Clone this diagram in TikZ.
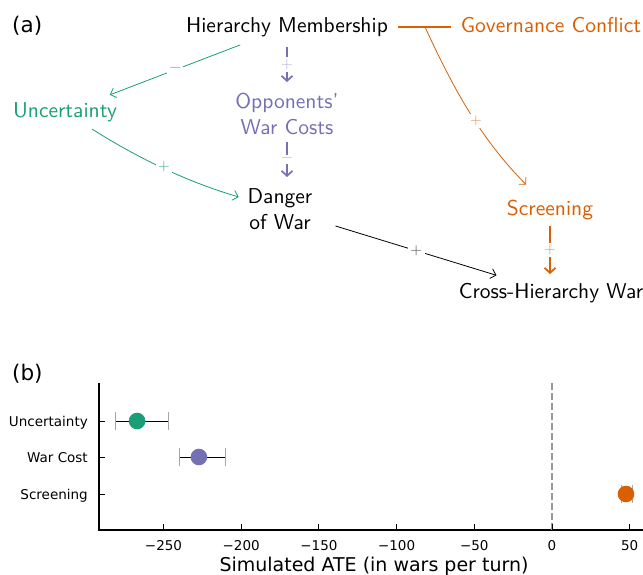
\documentclass[tikz,border=0pt]{standalone}
\usepackage{fontspec}
\usepackage{tikz}
\usetikzlibrary{arrows.meta}

\newfontfamily\varfont{lmsans10-regular.otf}
\newfontfamily\plotfont{DejaVu Sans}
\definecolor{dkgreen}{HTML}{1B9E77}
\definecolor{dkpurple}{HTML}{7570B3}
\definecolor{dkorange}{HTML}{D95F02}

\begin{document}
\begin{tikzpicture}[
  x=1pt, y=-1pt,
  var/.style={font=\varfont\fontsize{21.5}{25.5}\selectfont, inner sep=0pt, text height=17pt, text depth=5pt},
  var2/.style={font=\varfont\fontsize{21.5}{25.5}\selectfont, inner sep=0pt, align=center},
  sign/.style={font=\varfont\fontsize{15}{17}\selectfont, fill=white, inner sep=2.5pt},
  link/.style={-{Straight Barb[length=5pt,width=10pt]}, line width=0.8pt},
  heavy/.style={-{Straight Barb[length=5pt,width=11pt]}, line width=1.7pt},
  panel/.style={font=\plotfont\fontsize{21.5}{25}\selectfont, inner sep=0pt, anchor=base west},
  ticklab/.style={font=\plotfont\fontsize{13.5}{16}\selectfont, inner sep=0pt},
  axlab/.style={font=\plotfont\fontsize{19}{22}\selectfont, inner sep=0pt, anchor=base}
]
\clip (0,0) rectangle (643,575);

% (a) causal diagram
\node[panel] (pa) at (12,33) {(a)};

\node[var] (hm) at (287,27) {Hierarchy Membership};
\node[var, text=dkorange] (gc) at (551,27) {Governance Conflict};
\node[var, text=dkgreen] (unc) at (65,112) {Uncertainty};
\node[var2, text=dkpurple] (opp) at (287,114) {Opponents’\\War Costs};
\node[var2] (dgr) at (280,209) {Danger\\of War};
\node[var, text=dkorange] (scr) at (550,209) {Screening};
\node[var] (chw) at (551,292) {Cross-Hierarchy War};

% moderator line and its branch
\draw[dkorange, line width=1.7pt, shorten <=111pt, shorten >=100pt]
  (hm.center) -- coordinate[pos=0.523] (split) (gc.center);
\draw[link, dkorange, shorten <=1pt, shorten >=34pt] (split) to[bend right=10]
  node[sign, text=dkorange!70, pos=0.48] {+} (scr.center);

% mechanisms
\draw[link, dkgreen, shorten <=50pt, shorten >=48pt] (hm.center) --
  node[sign, text=dkgreen!85, pos=0.504] {−} (unc.center);
\draw[link, dkgreen, shorten <=32pt, shorten >=43pt] (unc.center) to[bend right=8]
  node[sign, text=dkgreen!85, pos=0.477] {+} (dgr.center);
\draw[heavy, dkpurple, shorten <=20pt, shorten >=32pt] (hm.center) --
  node[sign, text=dkpurple!55, pos=0.431] {+} (opp.center);
\draw[heavy, dkpurple, shorten <=28pt, shorten >=32pt] (opp.center) --
  node[sign, text=dkpurple!55, pos=0.479] {−} (opp.center |- dgr.center);
\draw[link, shorten <=58pt, shorten >=57pt] (dgr.center) --
  node[sign, text=black!70, pos=0.503] {+} (chw.center);
\draw[heavy, dkorange, shorten <=17pt, shorten >=18pt] (scr.center) --
  node[sign, text=dkorange!70, pos=0.494] {+} (scr.center |- chw.center);

% (b) simulated effects
\node[panel] (pb) at (12,380) {(b)};

\draw[line width=1.1pt] (99,383) -- (99,530) -- (643,530);

\begin{scope}[x=1.554pt, xshift=552pt]
  \draw[gray!80, line width=1.1pt, dash pattern=on 7pt off 3pt] (0,383) -- (0,530);
  \foreach \v in {-250,-200,...,50} {
    \pgfmathtruncatemacro\av{abs(\v)}
    \draw[line width=1pt] (\v,530) -- ++(0,-6);
    \node[ticklab, anchor=base] (xt\av) at (\v,550) {\ifnum\v<0 −\fi\av};
  }
  \foreach \lab/\yy/\est/\lo/\hi/\col [count=\i] in
      {Uncertainty/421/-267/-281.2/-247.1/dkgreen,
       War Cost/457/-227.2/-240/-210.4/dkpurple,
       Screening/494/47.6/45/52.1/dkorange} {
    \draw[line width=1pt] (-291.5,\yy) -- ++(4,0);
    \node[ticklab, anchor=base east] (yt\i) at (-298.6,\yy+5) {\lab};
    \draw[line width=0.9pt] (\lo,\yy) -- (\hi,\yy);
    \draw[gray!70, line width=1pt] (\lo,\yy-9) -- (\lo,\yy+9)
      (\hi,\yy-9) -- (\hi,\yy+9);
    \fill[\col] (\est,\yy) circle[radius=8.3pt];
  }
\end{scope}

\node[axlab] (xl) at (374,571) {Simulated ATE (in wars per turn)};
\end{tikzpicture}
\end{document}
